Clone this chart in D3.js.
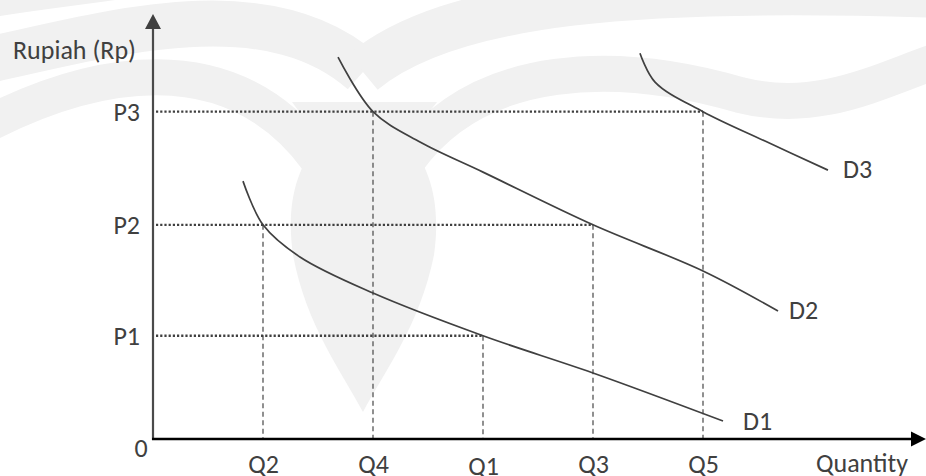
<!DOCTYPE html>
<html>
<head>
<meta charset="utf-8">
<script src="https://cdn.jsdelivr.net/npm/d3@7"></script>
<style>
  html, body { margin: 0; padding: 0; background: #ffffff; }
  svg { display: block; }
  text { font-family: Carlito, Calibri, Lato, "Open Sans", sans-serif; fill: #404040; }
</style>
</head>
<body>
<svg id="chart" width="926" height="476"></svg>
<script>
// ---------- data ----------
const qLabels = ["Q2", "Q4", "Q1", "Q3", "Q5"];
const qValues = [1, 2, 3, 4, 5];
const pLabels = ["P1", "P2", "P3"];
const pValues = [0.93, 1.93, 2.95];

// reference lines: intersection points (quantity, price)
const refQ = [1, 2, 3, 4, 5];          // Q2, Q4, Q1, Q3, Q5
const refP = [1.93, 2.95, 0.93, 1.93, 2.95];

const demand1 = [[0.818, 2.324], [1, 1.93], [1.336, 1.64], [2, 1.315], [3, 0.93], [4, 0.595], [5.182, 0.162]];
const demand2 = [[1.682, 3.441], [2, 2.95], [2.427, 2.676], [3, 2.405], [4, 1.93], [5, 1.514], [5.682, 1.153]];
const demand3 = [[4.427, 3.477], [4.564, 3.216], [5, 2.95], [5.564, 2.685], [6.136, 2.423]];
const curveNames = ["D1", "D2", "D3"];

// ---------- layout ----------
const svg = d3.select("#chart");
const x = d3.scaleLinear().domain([0, 7]).range([153, 923]);
const y = d3.scaleLinear().domain([0, 3.83]).range([439, 14]);
const ink = "#404040";
const fs = 26;

// ---------- faint watermark (background decoration) ----------
const wmColor = "#f1f1f1";
const wm = svg.append("g").attr("fill", "none").attr("stroke", wmColor);
wm.append("path").attr("stroke-width", 22).attr("d", "M-20,8 C60,-5 120,-10 170,-20");
wm.append("path").attr("stroke-width", 46).attr("d", "M-20,62 C120,30 270,-10 363,72");
wm.append("path").attr("stroke-width", 46).attr("d", "M363,72 C450,0 640,-15 940,-5");
wm.append("path").attr("stroke-width", 36).attr("d", "M-20,128 C90,70 230,40 318,160");
wm.append("path").attr("stroke-width", 36).attr("d", "M408,160 C480,60 620,60 740,95 C820,115 880,80 940,60");
svg.append("path").attr("fill", wmColor)
  .attr("d", "M292,102 L320,140 C296,168 286,205 293,255 C306,325 342,372 363,412 C384,372 420,325 434,255 C441,205 431,168 407,140 L437,102 Z");

// ---------- reference lines ----------
const refs = svg.append("g");
qValues.forEach((q, i) => {
  refs.append("line")
    .attr("x1", x(refQ[i])).attr("x2", x(refQ[i]))
    .attr("y1", y(refP[i])).attr("y2", y(0))
    .attr("stroke", "#555").attr("stroke-width", 1.3)
    .attr("stroke-dasharray", "5,3.5");
});
pValues.forEach((p) => {
  const qs = refQ.filter((q, j) => Math.abs(refP[j] - p) < 1e-6);
  refs.append("line")
    .attr("x1", x(0) + 3).attr("x2", x(d3.max(qs)))
    .attr("y1", y(p)).attr("y2", y(p))
    .attr("stroke", ink).attr("stroke-width", 2.4)
    .attr("stroke-dasharray", "2.2,2");
});

// ---------- demand curves ----------
const line = d3.line().x(d => x(d[0])).y(d => y(d[1])).curve(d3.curveCatmullRom.alpha(0.5));
const curves = [demand1, demand2, demand3];
curves.forEach(data => {
  svg.append("path").datum(data)
    .attr("d", line)
    .attr("fill", "none").attr("stroke", ink).attr("stroke-width", 1.7);
});
const labelOffset = [[20, 9], [11, 8], [15, 8]];
curves.forEach((data, i) => {
  const last = data[data.length - 1];
  svg.append("text")
    .attr("x", x(last[0]) + labelOffset[i][0])
    .attr("y", y(last[1]) + labelOffset[i][1])
    .attr("font-size", fs)
    .text(curveNames[i]);
});

// ---------- axes ----------
svg.append("line").attr("x1", x(0)).attr("x2", x(0))
  .attr("y1", y(0) + 1).attr("y2", y(3.7))
  .attr("stroke", "#4a4a4a").attr("stroke-width", 2.2);
svg.append("path").attr("fill", "#404040")
  .attr("d", `M${x(0)},${y(3.83)} L${x(0) - 8},${y(3.83) + 15} L${x(0) + 8},${y(3.83) + 15} Z`);
svg.append("line").attr("x1", x(0) - 1).attr("x2", 914)
  .attr("y1", y(0)).attr("y2", y(0))
  .attr("stroke", "#000").attr("stroke-width", 2.4);
svg.append("path").attr("fill", "#000")
  .attr("d", `M926,${y(0)} L911,${y(0) - 7.5} L911,${y(0) + 7.5} Z`);

const xAxis = d3.axisBottom(x).tickValues(qValues)
  .tickFormat((d, i) => qLabels[i]).tickSize(0).tickPadding(0);
const gx = svg.append("g").attr("transform", `translate(0,${y(0)})`).call(xAxis);
gx.select(".domain").remove();
gx.attr("font-size", null).attr("font-family", null);
gx.selectAll("text").attr("dy", null)
  .attr("y", d => d === 3 ? 36 : 34)
  .attr("font-size", fs).attr("fill", ink);

const yAxis = d3.axisLeft(y).tickValues(pValues)
  .tickFormat((d, i) => pLabels[i]).tickSize(0).tickPadding(0);
const gy = svg.append("g").attr("transform", `translate(${x(0) - 13},0)`).call(yAxis);
gy.select(".domain").remove();
gy.attr("font-size", null).attr("font-family", null);
gy.selectAll("text").attr("dy", "0.33em").attr("x", 0)
  .attr("font-size", fs).attr("fill", ink);

svg.append("text").attr("x", 13).attr("y", 59).attr("font-size", fs).text("Rupiah (Rp)");
svg.append("text").attr("x", 862).attr("y", 472).attr("text-anchor", "middle").attr("font-size", fs).text("Quantity");
svg.append("text").attr("x", 141).attr("y", 457).attr("text-anchor", "middle").attr("font-size", fs).attr("fill", "#262626").text("0");
</script>
</body>
</html>
